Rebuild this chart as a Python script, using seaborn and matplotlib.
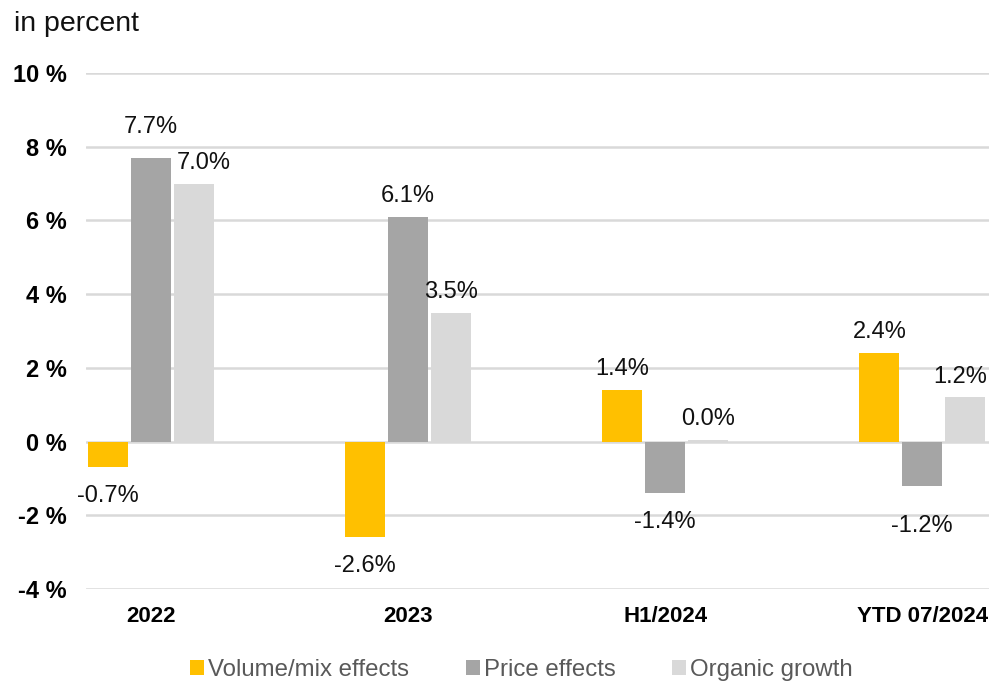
import matplotlib
matplotlib.use("Agg")
import matplotlib.pyplot as plt
from matplotlib.patches import Patch
import seaborn as sns
import pandas as pd

periods = ["2022", "2023", "H1/2024", "YTD 07/2024"]
series_names = ["Volume/mix effects", "Price effects", "Organic growth"]
volume_mix = [-0.7, -2.6, 1.4, 2.4]
price = [7.7, 6.1, -1.4, -1.2]
organic = [7.0, 3.5, 0.04, 1.2]
colors = ["#FFC000", "#A5A5A5", "#D9D9D9"]
y_ticks = [-4, -2, 0, 2, 4, 6, 8, 10]

rows = []
for name, vals in zip(series_names, [volume_mix, price, organic]):
    for p, v in zip(periods, vals):
        rows.append({"period": p, "series": name, "value": v})
df = pd.DataFrame(rows)

sns.set_theme(style="white")
plt.rcParams["font.family"] = ["Liberation Sans", "DejaVu Sans"]

fig = plt.figure(figsize=(9.89, 6.81), dpi=100)
ax = fig.add_axes([86 / 989, 1 - 589 / 681, 1 - 86 / 989, (589 - 73) / 681])

sns.barplot(data=df, x="period", y="value", hue="series", order=periods,
            hue_order=series_names, palette=colors, width=0.5, gap=0.07,
            saturation=1, legend=False, edgecolor="none", linewidth=0,
            ax=ax, zorder=3)

ax.set_ylim(-4, 10)
ax.set_xlim(-0.253, 3.26)
ax.set_yticks(y_ticks)
ax.set_yticklabels([f"{t} %" for t in y_ticks], fontsize=17, fontweight="bold")
ax.set_xticks(range(len(periods)))
ax.set_xticklabels(periods, fontsize=16, fontweight="bold")
ax.tick_params(axis="both", length=0, colors="black")
ax.tick_params(axis="y", pad=14)
ax.tick_params(axis="x", pad=12)
ax.set_xlabel("")
ax.set_ylabel("")
for s in ax.spines.values():
    s.set_visible(False)
ax.yaxis.grid(True, color="#D9D9D9", linewidth=1.8, zorder=0)
ax.set_axisbelow(True)

# extra label shifts (points) to keep crowded labels apart
label_nudge = {
    ("2022", "Price effects"): (0, 7),
    ("2022", "Organic growth"): (7, 0),
    ("YTD 07/2024", "Price effects"): (0, -8),
}

# value labels above positive bars and below negative ones
labels = []
for name, container, vals in zip(series_names, ax.containers, [volume_mix, price, organic]):
    for period, bar, v in zip(periods, container, vals):
        cx = bar.get_x() + bar.get_width() / 2
        dx, dy = label_nudge.get((period, name), (0, 0))
        if v >= 0:
            t = ax.annotate(f"{v:.1f}%", (cx, v), xytext=(dx, 7 + dy),
                            textcoords="offset points", ha="center", va="bottom",
                            fontsize=17, color="#111111")
        else:
            t = ax.annotate(f"{v:.1f}%", (cx, v), xytext=(dx, -13 + dy),
                            textcoords="offset points", ha="center", va="top",
                            fontsize=17, color="#111111")
        labels.append(t)

# pull labels that would run past the right edge back inside
fig.canvas.draw()
renderer = fig.canvas.get_renderer()
fig_w = fig.bbox.width
for t in labels:
    bb = t.get_window_extent(renderer)
    if bb.x1 > fig_w - 2:
        shift_pt = (bb.x1 - (fig_w - 2)) * 72 / fig.dpi
        x0, y0 = t.xyann
        t.xyann = (x0 - shift_pt, y0)

fig.text(14 / 989, 1 - 24 / 681, "in percent", fontsize=20.5, va="center", ha="left",
         color="#111111")

handles = [Patch(facecolor=c, edgecolor="none", label=n) for c, n in zip(colors, series_names)]
fig.legend(handles=handles, loc="center", bbox_to_anchor=(0.527, 1 - 670 / 681), ncol=3,
           frameon=False, fontsize=17.3, handlelength=0.6, handleheight=0.6,
           handletextpad=0.15, columnspacing=2.35, labelcolor="#595959")

fig.savefig("out.png", dpi=100)
